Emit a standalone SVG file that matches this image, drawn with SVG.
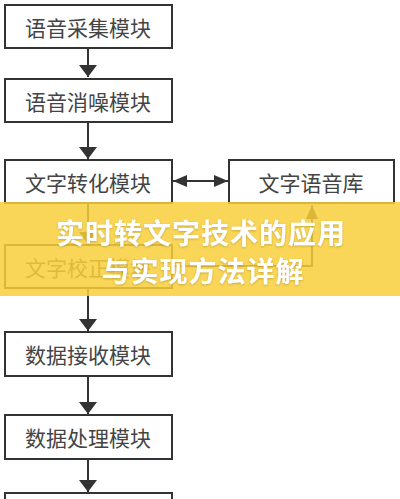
<svg xmlns="http://www.w3.org/2000/svg" width="400" height="499" viewBox="0 0 400 499">
<style>
.box{fill:#fff;stroke:#333;stroke-width:2}
.lbl{font-family:"Noto Sans CJK SC","Noto Sans",sans-serif;font-size:21px;fill:#444;text-anchor:middle;dominant-baseline:central}
.ln{stroke:#333;stroke-width:2;fill:none}
.ttl{font-family:"Noto Sans CJK SC","Noto Sans",sans-serif;font-size:28px;font-weight:bold;fill:#fff;text-anchor:middle;dominant-baseline:central;letter-spacing:1px}
</style>
<defs>
<marker id="ah" viewBox="0 0 12 18" refX="12" refY="9" markerWidth="12" markerHeight="18" markerUnits="userSpaceOnUse" orient="auto-start-reverse">
<path d="M0,0 L12,9 L0,18 Z" fill="#333"/>
</marker>
<marker id="ah2" viewBox="0 0 14 12" refX="14" refY="6" markerWidth="14" markerHeight="12" markerUnits="userSpaceOnUse" orient="auto-start-reverse">
<path d="M0,0 L14,6 L0,12 Z" fill="#333"/>
</marker>
<filter id="sh" x="-10%" y="-30%" width="120%" height="160%">
<feDropShadow dx="0" dy="1" stdDeviation="1" flood-color="#a08020" flood-opacity="0.5"/>
</filter>
</defs>
<rect width="400" height="499" fill="#fff"/>
<g id="connectors">
<line class="ln" x1="88" y1="48" x2="88" y2="77" marker-end="url(#ah)"/>
<line class="ln" x1="88" y1="122" x2="88" y2="159" marker-end="url(#ah)"/>
<line class="ln" x1="88" y1="203" x2="88" y2="244" marker-end="url(#ah)"/>
<line class="ln" x1="88" y1="288" x2="88" y2="331" marker-end="url(#ah)"/>
<line class="ln" x1="88" y1="376" x2="88" y2="414" marker-end="url(#ah)"/>
<line class="ln" x1="88" y1="459" x2="88" y2="492" marker-end="url(#ah)"/>
<line class="ln" x1="173" y1="181" x2="228" y2="181" marker-start="url(#ah2)" marker-end="url(#ah2)"/>
<polyline class="ln" points="172,266 312,266 312,205" marker-end="url(#ah2)"/>
</g>
<g id="n1"><rect class="box" x="5" y="5" width="167" height="43"/><text class="lbl" x="88" y="27">语音采集模块</text></g>
<g id="n2"><rect class="box" x="5" y="79" width="167" height="43"/><text class="lbl" x="88" y="101">语音消噪模块</text></g>
<g id="n3"><rect class="box" x="5" y="160" width="167" height="43"/><text class="lbl" x="88" y="182">文字转化模块</text></g>
<g id="n4"><rect class="box" x="229" y="160" width="165" height="43"/><text class="lbl" x="311" y="182">文字语音库</text></g>
<g id="n5"><rect class="box" x="5" y="245" width="167" height="43"/><text class="lbl" x="88" y="267">文字校正模块</text></g>
<g id="n6"><rect class="box" x="5" y="332" width="167" height="44"/><text class="lbl" x="88" y="354">数据接收模块</text></g>
<g id="n7"><rect class="box" x="5" y="415" width="167" height="44"/><text class="lbl" x="88" y="437">数据处理模块</text></g>
<g id="n8"><rect class="box" x="5" y="493" width="167" height="44"/></g>
<g id="banner">
<rect x="0" y="202" width="400" height="94" fill="#F8CF3A" fill-opacity="0.85"/>
<text class="ttl" x="201" y="232" filter="url(#sh)">实时转文字技术的应用</text>
<text class="ttl" x="203" y="270" filter="url(#sh)">与实现方法详解</text>
</g>
</svg>
